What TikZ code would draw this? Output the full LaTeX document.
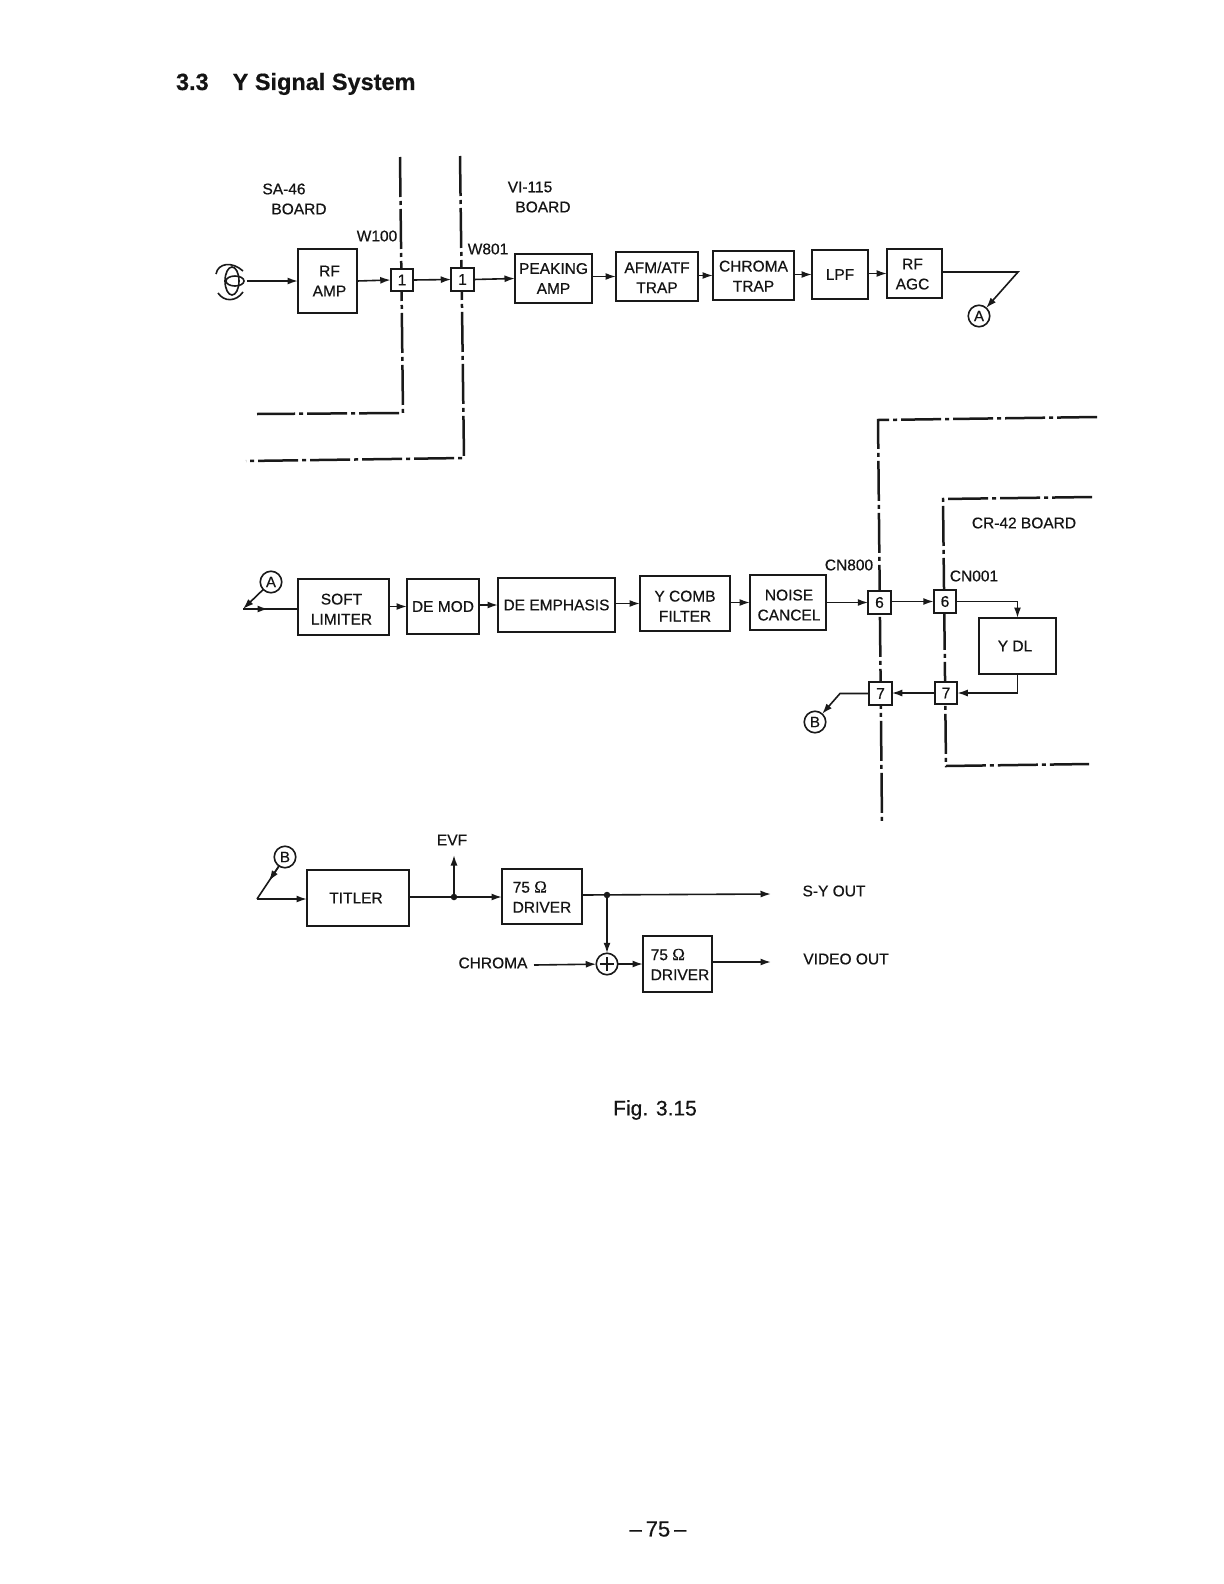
\documentclass[tikz,border=0pt]{standalone}
\usepackage{fontspec}
\setmainfont{Liberation Sans}[RawFeature={embolden=0.5}]
\newfontfamily\omegafont{Liberation Serif}[RawFeature={embolden=0.5}]
\usetikzlibrary{arrows.meta}
\newcommand{\bx}[6]{\node[blk,minimum width={(#4-#2)*1pt},minimum height={(#5-#3)*1pt}] (#1) at ({(#2+#4)/2},{(#3+#5)/2}) {#6};}
\newcommand{\Om}{{\omegafont\fontsize{17}{20}\selectfont Ω}}
\newcommand{\dn}[1]{\rule{0pt}{#1pt}}
\tikzset{
  x=1pt,y=-1pt,
  lab/.style={inner sep=0pt,outer sep=0pt,font=\fontsize{15.5}{20}\selectfont,text=black!92},
  blk/.style={lab,draw=black!90,line width=2.5pt,fill=white,align=center},
  pin/.style={blk,line width=2.3pt,minimum size=22.5pt},
  circ/.style={lab,draw=black!90,line width=1.6pt,circle,fill=white,minimum size=21.5pt,font=\fontsize{15}{15}\selectfont},
  wire/.style={line width=1.6pt,draw=black!90},
  arr/.style={wire,-{Latex[length=10.5pt,width=7pt]}},
  board/.style={line width=2.5pt,draw=black!90,dash pattern=on 40pt off 4pt on 4pt off 4pt},
  jdot/.style={circle,fill=black!90,inner sep=0pt,outer sep=0pt,minimum size=6.5pt},
}
\begin{document}
\begin{tikzpicture}
\useasboundingbox[fill=white] (0,0) rectangle (1223,1584);

% board boundaries
\coordinate (w1a) at (400,157); \coordinate (w1b) at (403,413); \coordinate (w1c) at (257,414);
\coordinate (w2a) at (460,156); \coordinate (w2b) at (464,458); \coordinate (w2c) at (246,461);
\coordinate (c8a) at (1097,417); \coordinate (c8b) at (878,420); \coordinate (c8c) at (882,823);
\coordinate (c0a) at (1092,497); \coordinate (c0b) at (943,499); \coordinate (c0c) at (946,766); \coordinate (c0d) at (1089,764);
\draw[board] (w1a) -- (w1b) -- (w1c);
\draw[board] (w2a) -- (w2b) -- (w2c);
\draw[board] (c8a) -- (c8b) -- (c8c);
\draw[board] (c0a) -- (c0b) -- (c0c) -- (c0d);

% title and page texts
\node[lab,anchor=base west,font=\bfseries\fontsize{23.5}{28}\selectfont] (title) at (176,90) {3.3\hspace{24pt}Y Signal System};
\node[lab,font=\fontsize{21}{24}\selectfont] (fig) at (655,1110) {Fig. 3.15};
\node[lab,font=\fontsize{22}{24}\selectfont] (page) at (658,1529) {–\hspace{4pt}75\hspace{4pt}–};

% row 1
\node[lab] (sa) at (284,189) {SA-46};
\node[lab] (sab) at (299,209) {BOARD};
\node[lab] (vi) at (530,187) {VI-115};
\node[lab] (vib) at (543,207) {BOARD};
\node[lab] (w100) at (377,236) {W100};
\node[lab] (w801) at (488,249) {W801};

\coordinate (ant) at (247,281);
\draw[wire] (232,281) ellipse [x radius=7,y radius=14];
\draw[wire] (235,281) ellipse [x radius=9,y radius=5];
\draw[wire] (216,274) .. controls (218,263) and (232,261) .. (243,271);
\draw[wire] (218,293) .. controls (224,302) and (236,302) .. (243,292);

\bx{rfamp}{298}{249}{357}{313}{\hspace*{4pt}RF\\\hspace*{4pt}AMP}
\node[pin] (p1) at (402,280) {1};
\node[pin] (p2) at (462.5,279.5) {1};
\bx{peak}{515}{254}{592}{303}{PEAKING\\AMP}
\bx{afm}{616}{252}{698}{301}{\dn{13}AFM/ATF\\TRAP}
\bx{chroma}{713}{251}{794}{300}{\dn{12}CHROMA\\TRAP}
\bx{lpf}{812}{250}{868}{299}{LPF}
\bx{agc}{887}{249}{942}{298}{\dn{12}\hspace*{-4pt}RF\\\hspace*{-4pt}AGC}
\node[circ] (a1) at (979,316) {A};
\coordinate (a1k) at (1018,272);
\draw[arr] (ant) -- (ant -| rfamp.west);
\draw[arr] (rfamp.east) -- (p1.west);
\draw[arr] (p1.east) -- (p2.west);
\draw[arr] (p2.east) -- (peak.west);
\draw[arr] (peak.east |- afm.west) -- (afm.west);
\draw[arr] (afm.east |- chroma.west) -- (chroma.west);
\draw[arr] (chroma.east |- lpf.west) -- (lpf.west);
\draw[arr] (lpf.east |- agc.west) -- (agc.west);
\draw[arr] (agc.east |- a1k) -- (a1k) -- (a1);

% row 2
\node[circ] (a2) at (271,582) {A};
\coordinate (a2v) at (243,609);
\coordinate (a2t) at (268,609);
\bx{soft}{298}{579}{389}{635}{\dn{15}\hspace*{-4pt}SOFT\\\hspace*{-4pt}LIMITER}
\bx{demod}{407}{579}{479}{634}{DE MOD}
\bx{deemph}{498}{578}{615}{632}{DE EMPHASIS}
\bx{ycomb}{640}{576}{730}{631}{\dn{16}Y COMB\\FILTER}
\bx{noise}{750}{575}{826}{630}{\dn{16}\hspace*{2pt}NOISE\\\hspace*{2pt}CANCEL}
\node[pin] (p6) at (879.5,602.5) {6};
\node[pin] (p6b) at (945,601.5) {6};
\node[pin] (p7) at (880.5,693.5) {7};
\node[pin] (p7b) at (946,693) {7};
\bx{ydl}{979}{618}{1056}{674}{\hspace*{-5pt}Y DL}
\node[circ] (b1) at (815,722) {B};
\coordinate (b1k) at (840,694);
\node[lab] (cn800) at (849,565) {CN800};
\node[lab] (cn001) at (974,576) {CN001};
\node[lab] (cr42) at (1024,523) {CR-42 BOARD};
\draw[arr] (a2) -- (a2v);
\draw[wire] (a2v) -- (a2v -| soft.west);
\draw[arr] (a2v) -- (a2t);
\draw[arr] (soft.east |- demod.west) -- (demod.west);
\draw[arr] (demod.east |- deemph.west) -- (deemph.west);
\draw[arr] (deemph.east |- ycomb.west) -- (ycomb.west);
\draw[arr] (ycomb.east |- noise.west) -- (noise.west);
\draw[arr] (noise.east) -- (p6.west);
\draw[arr] (p6.east |- p6b.west) -- (p6b.west);
\draw[arr] (p6b.east) -| (ydl.north);
\draw[arr] (ydl.south) |- (p7b.east);
\draw[arr] (p7b.west) -- (p7b.west -| p7.east);
\draw[arr] (p7.west) -- (p7.west -| b1k) -- (b1);

% row 3
\node[circ] (b2) at (285,857) {B};
\coordinate (b2v) at (257,899);
\coordinate (b2m) at (269,881);
\coordinate (evf) at (454,855);
\bx{titler}{307}{870}{409}{926}{\hspace*{-4pt}TITLER}
\bx{drv1}{502}{869}{582}{924}{}
\node[lab,align=left] (drv1t) at (542,897) {75 \Om\\DRIVER};
\node[lab] (evft) at (452,840) {EVF};
\node[jdot] (j1) at (454,897) {};
\node[jdot] (j2) at (607,895) {};
\node[circ] (sum) at (607,964) {};
\bx{drv2}{643}{936}{712}{992}{}
\node[lab,align=left] (drv2t) at (680,964.5) {75 \Om\\DRIVER};
\node[lab] (chroma2) at (493,963) {CHROMA};
\node[lab] (syout) at (834,891) {S-Y OUT};
\node[lab] (vidout) at (846,959) {VIDEO OUT};
\coordinate (chs) at (534,965);
\coordinate (syt) at (771,894);
\coordinate (vit) at (771,962);
\draw[wire] (sum.center) +(-7,0) -- +(7,0);
\draw[wire] (sum.center) +(0,-7) -- +(0,7);
\draw[wire] (b2) -- (b2v);
\draw[arr] (b2) -- (b2m);
\draw[arr] (b2v) -- (b2v -| titler.west);
\draw[arr] (titler.east |- j1) -- (j1 -| drv1.west);
\draw[arr] (j1) -- (evf);
\draw[arr] (drv1.east |- j2) -- (syt);
\draw[arr] (j2) -- (sum);
\draw[arr] (chs) -- (sum);
\draw[arr] (sum) -- (drv2.west);
\draw[arr] (drv2.east |- vit) -- (vit);
\end{tikzpicture}
\end{document}
